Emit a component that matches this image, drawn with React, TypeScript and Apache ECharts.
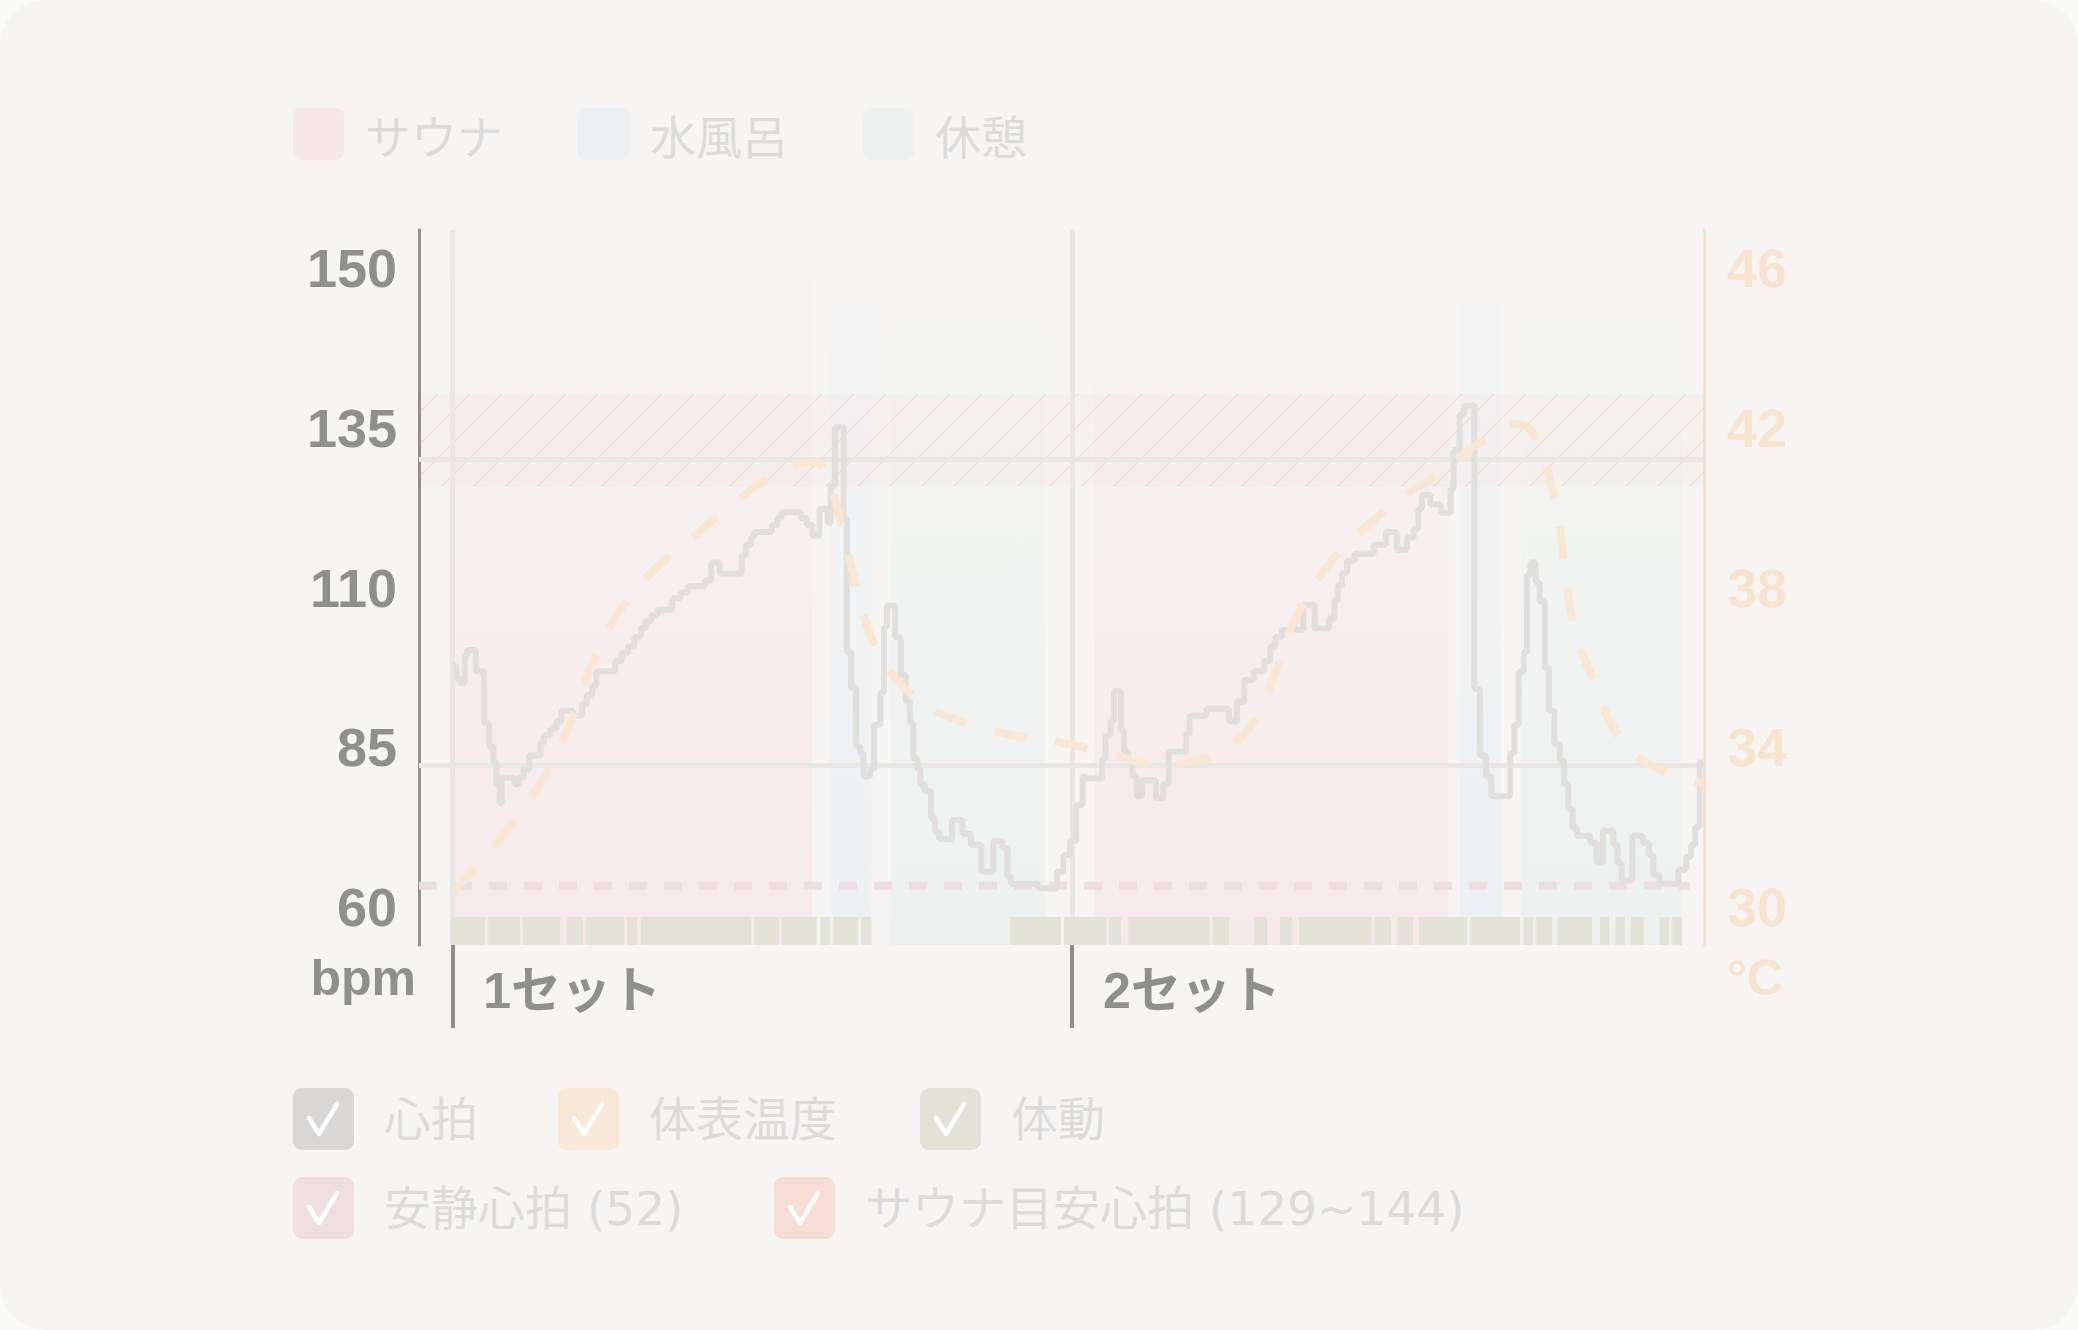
import React, { useEffect, useRef } from 'react';
import * as echarts from 'echarts';

const W = 2078;
const H = 1330;

// ---- axes ----
const X_MIN = -1.6;
const X_MAX = 60.2;
const Y_MIN = 54;
const Y_MAX = 166;
const T_MIN = 29.04;
const T_MAX = 46.96;
const leftTickValues = [60, 85, 110, 135, 160];
const leftTickLabels = ['60', '85', '110', '135', '150'];
const rightTickValues = [30, 34, 38, 42, 46];
const setStarts = [0, 29.8];
const setLabels = ['1セット', '2セット'];

// ---- phases (minutes) ----
const phaseNames = ['サウナ', '水風呂', '休憩'];
const saunaPeriods = [[0.0, 17.3], [30.9, 47.9]];
const waterPeriods = [[18.17, 20.17], [48.45, 50.43]];
const restPeriods = [[21.08, 28.5], [51.39, 59.13]];
const phaseTops = [158.9, 155.0, 150.8];

// ---- heart rate (min, bpm) ----
const hrSet1 = [
  [0.05, 97.7], [0.2, 95.7], [0.4, 95.0], [0.6, 99.4], [0.72, 100.2], [1.13, 96.9], [1.53, 88.7], [1.77, 85.1],
  [1.98, 82.6], [2.12, 79.0], [2.28, 76.2], [2.38, 80.2], [2.99, 79.2], [3.19, 80.2], [3.43, 81.5], [3.7, 83.7],
  [4.24, 85.7], [4.41, 86.8], [4.71, 87.9], [5.01, 89.0], [5.25, 90.7], [5.82, 89.9], [6.23, 91.8], [6.47, 93.2],
  [6.73, 94.6], [6.93, 96.9], [7.84, 98.5], [8.15, 99.7], [8.45, 100.8], [8.76, 102.2], [9.06, 103.6], [9.3, 104.7],
  [9.57, 105.6], [9.87, 106.5], [10.58, 108.3], [10.98, 109.2], [11.33, 110.2], [12.14, 111.1], [12.46, 113.9],
  [12.86, 112.2], [13.92, 115.0], [14.12, 116.7], [14.36, 117.8], [14.52, 118.7], [15.37, 119.8], [15.63, 120.9],
  [15.84, 121.8], [16.75, 120.9], [17.05, 119.8], [17.32, 118.1], [17.66, 122.3], [18.06, 120.1], [18.2, 125.9],
  [18.41, 135.1], [18.83, 120.9], [18.97, 99.9], [19.18, 94.3], [19.42, 85.1], [19.62, 84.0], [19.78, 80.4],
  [20.09, 81.5], [20.29, 88.5], [20.59, 93.5], [20.76, 103.8], [20.9, 107.2], [21.3, 102.2], [21.56, 96.3],
  [21.81, 92.1], [22.01, 88.8], [22.17, 83.2], [22.37, 81.5], [22.51, 79.2], [22.72, 78.1], [23.02, 73.9],
  [23.22, 71.7], [23.43, 70.6], [24.03, 73.6], [24.54, 71.4], [24.94, 69.7], [25.45, 65.5], [26.02, 70.3],
  [26.46, 69.2], [26.7, 64.7], [26.86, 63.6], [28.18, 62.9], [29.09, 65.5], [29.39, 68.1], [29.7, 70.3],
  [30.0, 75.9], [30.31, 80.4]
];
const hrSet2 = [
  [30.44, 80.1], [31.25, 83.2], [31.42, 86.8], [31.66, 89.0], [31.82, 93.8], [32.16, 87.6], [32.31, 84.3],
  [32.51, 82.9], [32.71, 80.4], [32.91, 77.3], [33.18, 79.8], [33.84, 77.0], [34.19, 79.2], [34.45, 84.3],
  [35.3, 87.1], [35.46, 89.9], [36.27, 91.0], [37.36, 89.0], [37.73, 92.1], [38.09, 95.5], [38.54, 96.9],
  [39.04, 98.5], [39.35, 100.8], [39.59, 102.3], [39.91, 103.4], [40.93, 107.3], [41.47, 103.6], [42.18, 105.2],
  [42.42, 108.0], [42.59, 110.3], [42.79, 112.2], [43.03, 114.2], [43.39, 115.3], [44.31, 116.7], [44.91, 118.7],
  [45.42, 115.9], [45.92, 117.8], [46.23, 119.2], [46.47, 122.3], [46.63, 124.5], [47.04, 123.0], [47.54, 121.7],
  [48.01, 125.4], [48.15, 131.5], [48.45, 137.1], [48.65, 138.5], [49.16, 94.1], [49.42, 83.7], [49.71, 80.4],
  [49.97, 77.3], [50.88, 84.0], [51.08, 88.5], [51.29, 96.8], [51.53, 99.9], [51.69, 112.0], [51.85, 113.9],
  [52.1, 110.8], [52.3, 107.8], [52.54, 97.4], [52.74, 90.7], [53.01, 85.4], [53.27, 82.9], [53.47, 79.2],
  [53.67, 75.3], [53.88, 72.5], [54.08, 71.1], [54.73, 70.0], [55.03, 66.9], [55.33, 71.9], [55.84, 69.7],
  [56.04, 66.9], [56.24, 64.1], [56.75, 71.1], [57.25, 70.0], [57.56, 68.1], [57.76, 65.0], [58.06, 63.6],
  [58.97, 65.8], [59.34, 67.8], [59.58, 69.7], [59.78, 72.5], [59.99, 82.6], [60.15, 82.6]
];

// ---- skin temperature (min, °C) ----
const tempPoints = [
  [0.05, 30.35], [0.26, 30.5], [2.08, 31.57], [3.9, 32.83], [5.32, 34.15], [6.33, 35.54], [7.48, 36.93],
  [9.22, 38.18], [11.39, 39.18], [13.27, 40.01], [15.09, 40.71], [16.34, 41.06], [17.15, 41.15], [17.86, 40.99],
  [18.47, 40.07], [19.08, 38.76], [19.7, 37.42], [20.69, 36.19], [22.41, 35.18], [24.6, 34.62], [26.93, 34.3],
  [29.25, 34.12], [31.5, 33.84], [33.84, 33.58], [36.15, 33.7], [38.38, 34.51], [39.55, 35.81], [40.52, 37.17],
  [41.94, 38.43], [43.64, 39.38], [45.62, 40.22], [47.64, 40.93], [49.46, 41.65], [51.29, 42.09], [52.0, 41.84],
  [52.74, 40.82], [53.27, 39.5], [53.57, 38.13], [54.08, 36.79], [54.97, 35.56], [55.78, 34.53], [57.15, 33.69],
  [59.68, 33.15], [60.15, 33.08]
];

// ---- body movement segments (min) ----
const movementSegments = [
  [0.0, 1.56], [1.73, 3.25], [3.39, 5.21], [5.52, 6.27], [6.43, 8.25], [8.41, 8.9], [9.06, 14.38], [14.52, 15.7],
  [15.86, 17.52], [17.7, 18.16], [18.31, 19.52], [19.68, 20.15], [26.83, 29.26], [29.42, 31.45], [31.6, 32.15],
  [32.51, 36.41], [36.58, 37.36], [38.56, 39.19], [39.81, 40.38], [40.72, 44.2], [44.37, 45.13], [45.46, 46.21],
  [46.49, 48.8], [48.96, 51.35], [51.53, 51.97], [52.14, 52.9], [53.17, 54.83], [55.19, 55.64], [55.94, 56.39],
  [56.69, 57.3], [58.06, 58.51], [58.67, 59.14]
];
const MOVE_TOP = 58.4;

// ---- reference values ----
const restingLine = [[X_MIN, 63.3], [59.5, 63.3]];
const targetBand = [125.8, 140.3];
const refHLines = [130.1, 82.1];

// ---- bottom legend ----
const bottomLegendNames = ['心拍', '体表温度', '体動', '安静心拍 (52)', 'サウナ目安心拍 (129~144)'];
const bottomLegendColors = ['#d8d7d5', '#f9e7d8', '#e3e2d6', '#efdfe2', '#f6ddd6'];

const NUM_FONT = '"Liberation Sans", Arial, Helvetica, sans-serif';
const JP_FONT = '"Noto Sans CJK JP", "Noto Sans", sans-serif';
const MIX_FONT = '"DejaVu Sans", "Noto Sans CJK JP", sans-serif';
const SET_FONT = '"Liberation Sans", "Noto Sans CJK JP", sans-serif';

function makeHatch() {
  const c = document.createElement('canvas');
  c.width = 32;
  c.height = 32;
  const g = c.getContext('2d');
  if (g) {
    g.fillStyle = 'rgba(225,170,170,0.055)';
    g.fillRect(0, 0, 32, 32);
    g.strokeStyle = 'rgba(236,165,140,0.24)';
    g.lineWidth = 1.4;
    g.beginPath();
    g.moveTo(0, 32); g.lineTo(32, 0);
    g.moveTo(-3, 3); g.lineTo(3, -3);
    g.moveTo(29, 35); g.lineTo(35, 29);
    g.stroke();
  }
  return c;
}

function phaseSeries(i: number, periods: number[][], c0: string, c1: string, legendColor: string) {
  return {
    type: 'custom',
    name: phaseNames[i],
    z: 1,
    silent: true,
    itemStyle: { color: legendColor },
    encode: { x: [0, 1], y: 2 },
    data: periods.map((p) => [p[0], p[1], phaseTops[i]]),
    renderItem: (params: any, api: any) => {
      const p0 = api.coord([api.value(0), api.value(2)]);
      const p1 = api.coord([api.value(1), Y_MIN]);
      return {
        type: 'rect',
        shape: { x: p0[0], y: p0[1], width: p1[0] - p0[0], height: p1[1] - p0[1] },
        style: {
          fill: new echarts.graphic.LinearGradient(0, 0, 0, 1, [
            { offset: 0, color: c0 },
            { offset: 1, color: c1 }
          ])
        }
      };
    }
  };
}

export default function App() {
  const ref = useRef<HTMLDivElement>(null);

  useEffect(() => {
    if (!ref.current) return;
    const chart = echarts.init(ref.current, null, { renderer: 'svg', width: W, height: H });

    const boxPos = [[293, 1088], [558, 1088], [920, 1088], [293, 1177], [774, 1177]];
    const graphics: any[] = [];
    bottomLegendNames.forEach((name, i) => {
      const [bx, by] = boxPos[i];
      graphics.push({
        type: 'rect', shape: { x: bx, y: by, width: 61, height: 62, r: 9 },
        style: { fill: bottomLegendColors[i] }, silent: true
      });
      graphics.push({
        type: 'polyline',
        shape: { points: [[bx + 16, by + 30], [bx + 26, by + 46], [bx + 44, by + 16]] },
        style: { stroke: '#ffffff', lineWidth: 4.5, fill: null, lineCap: 'round', lineJoin: 'round' },
        silent: true
      });
      graphics.push({
        type: 'text', x: bx + 91, y: by + 31,
        style: { text: name, fill: '#dcdbd9', font: `400 47px ${MIX_FONT}`, verticalAlign: 'middle', align: 'left' },
        silent: true
      });
    });

    const iconPath = 'path://M8 0H43C47.4 0 51 3.6 51 8V44C51 48.4 47.4 52 43 52H8C3.6 52 0 48.4 0 44V8C0 3.6 3.6 0 8 0Z';

    const option: any = {
      animation: false,
      backgroundColor: 'transparent',
      grid: { left: 419, right: 374, top: 230, bottom: 385 },
      legend: {
        top: 108,
        left: 293,
        padding: 0,
        itemWidth: 51,
        itemHeight: 52,
        itemGap: 75,
        icon: iconPath,
        selectedMode: false,
        itemStyle: { borderWidth: 0 },
        data: [
          { name: phaseNames[0], itemStyle: { color: '#f6e8e9' } },
          { name: phaseNames[1], itemStyle: { color: '#edf0f3' } },
          { name: phaseNames[2], itemStyle: { color: '#eef1f0' } }
        ],
        textStyle: { fontSize: 46, color: '#dcdbd9', fontFamily: JP_FONT, padding: [0, 0, 0, 16] }
      },
      graphic: graphics,
      xAxis: {
        type: 'value',
        min: X_MIN,
        max: X_MAX,
        axisLine: { show: false, onZero: false },
        splitLine: { show: false },
        axisTick: {
          show: true,
          customValues: setStarts,
          length: 83,
          lineStyle: { color: '#8f8f8d', width: 4 }
        },
        axisLabel: {
          show: true,
          customValues: setStarts,
          formatter: (v: number) => {
            const idx = setStarts.findIndex((s) => Math.abs(s - v) < 0.01);
            return idx >= 0 ? setLabels[idx] : '';
          },
          align: 'left',
          verticalAlign: 'middle',
          margin: 46,
          padding: [0, 0, 0, 31],
          fontSize: 50,
          fontWeight: 'bold',
          color: '#8f8f8d',
          fontFamily: SET_FONT
        }
      },
      yAxis: [
        {
          type: 'value',
          position: 'left',
          min: Y_MIN,
          max: Y_MAX,
          axisLine: { show: true, onZero: false, lineStyle: { color: '#8f8f8d', width: 3 } },
          axisTick: { show: false },
          splitLine: { show: false },
          axisLabel: {
            customValues: leftTickValues,
            formatter: (v: number) => {
              const idx = leftTickValues.indexOf(v);
              return idx >= 0 ? leftTickLabels[idx] : '';
            },
            fontSize: 54,
            fontWeight: 'bold',
            color: '#8f8f8d',
            margin: 22,
            fontFamily: NUM_FONT
          },
          name: 'bpm',
          nameLocation: 'start',
          nameGap: 33,
          nameMoveOverlap: false,
          nameTextStyle: {
            fontSize: 50, fontWeight: 'bold', color: '#8f8f8d', fontFamily: NUM_FONT,
            align: 'right', verticalAlign: 'middle', padding: [0, 3, 0, 0]
          }
        },
        {
          type: 'value',
          position: 'right',
          min: T_MIN,
          max: T_MAX,
          axisLine: { show: true, onZero: false, lineStyle: { color: '#f8e3cf', width: 3 } },
          axisTick: { show: false },
          splitLine: { show: false },
          axisLabel: {
            customValues: rightTickValues,
            fontSize: 54,
            fontWeight: 'bold',
            color: '#f8e3cf',
            margin: 23,
            fontFamily: NUM_FONT
          },
          name: '°C',
          nameLocation: 'start',
          nameGap: 33,
          nameMoveOverlap: false,
          nameTextStyle: {
            fontSize: 50, fontWeight: 'bold', color: '#f8e3cf', fontFamily: NUM_FONT,
            align: 'left', verticalAlign: 'middle', padding: [0, 0, 0, 23]
          }
        }
      ],
      series: [
        phaseSeries(0, saunaPeriods, '#f6f4f2', '#f6e9ea', '#f6e8e9'),
        phaseSeries(1, waterPeriods, '#f4f4f4', '#ecf0f3', '#edf0f3'),
        phaseSeries(2, restPeriods, '#f5f5f3', '#ecf1f0', '#eef1f0'),
        {
          type: 'line',
          name: 'サウナ目安心拍 (129~144)',
          z: 2,
          data: [],
          silent: true,
          markArea: {
            z: 2,
            silent: true,
            itemStyle: {
              color: { image: makeHatch(), repeat: 'repeat', imageWidth: 32, imageHeight: 32 }
            },
            data: [[{ yAxis: targetBand[0] }, { yAxis: targetBand[1] }]]
          }
        },
        {
          type: 'line',
          name: 'refLines',
          z: 3,
          data: [],
          silent: true,
          markLine: {
            z: 3,
            silent: true,
            symbol: ['none', 'none'],
            label: { show: false },
            lineStyle: { color: '#e8e7e4', width: 5, type: 'solid' },
            data: [
              ...refHLines.map((v) => ({ yAxis: v })),
              ...setStarts.map((v) => ({ xAxis: v }))
            ]
          }
        },
        {
          type: 'custom',
          name: '体動',
          z: 3,
          silent: true,
          itemStyle: { color: '#e3e2d6' },
          encode: { x: [0, 1], y: 2 },
          data: movementSegments.map((s) => [s[0], s[1], MOVE_TOP]),
          renderItem: (params: any, api: any) => {
            const p0 = api.coord([api.value(0), api.value(2)]);
            const p1 = api.coord([api.value(1), Y_MIN]);
            return {
              type: 'rect',
              shape: { x: p0[0], y: p0[1], width: p1[0] - p0[0], height: p1[1] - p0[1] },
              style: { fill: '#e3e2d6' }
            };
          }
        },
        {
          type: 'line',
          name: '安静心拍 (52)',
          z: 4,
          silent: true,
          symbol: 'none',
          data: restingLine,
          lineStyle: { color: '#eddde1', width: 8, type: [18, 17] }
        },
        {
          type: 'line',
          name: '心拍',
          z: 5,
          silent: true,
          symbol: 'none',
          step: 'end',
          data: [...hrSet1, ...hrSet2],
          lineStyle: { color: '#e0dfdd', width: 6 }
        },
        {
          type: 'line',
          name: '体表温度',
          yAxisIndex: 1,
          z: 6,
          silent: true,
          symbol: 'none',
          smooth: 0.4,
          data: tempPoints,
          lineStyle: { color: '#f9e6d3', width: 8, type: [33, 29] }
        }
      ]
    };

    chart.setOption(option);
    return () => chart.dispose();
  }, []);

  return (
    <div style={{ position: 'fixed', left: 0, top: 0, width: W, height: H, background: '#fbfbfa' }}>
      <div style={{ position: 'absolute', left: 0, top: 0, width: W, height: H, background: '#f6f5f3', borderRadius: 46, overflow: 'hidden' }}>
        <div ref={ref} style={{ width: W, height: H }} />
      </div>
    </div>
  );
}
